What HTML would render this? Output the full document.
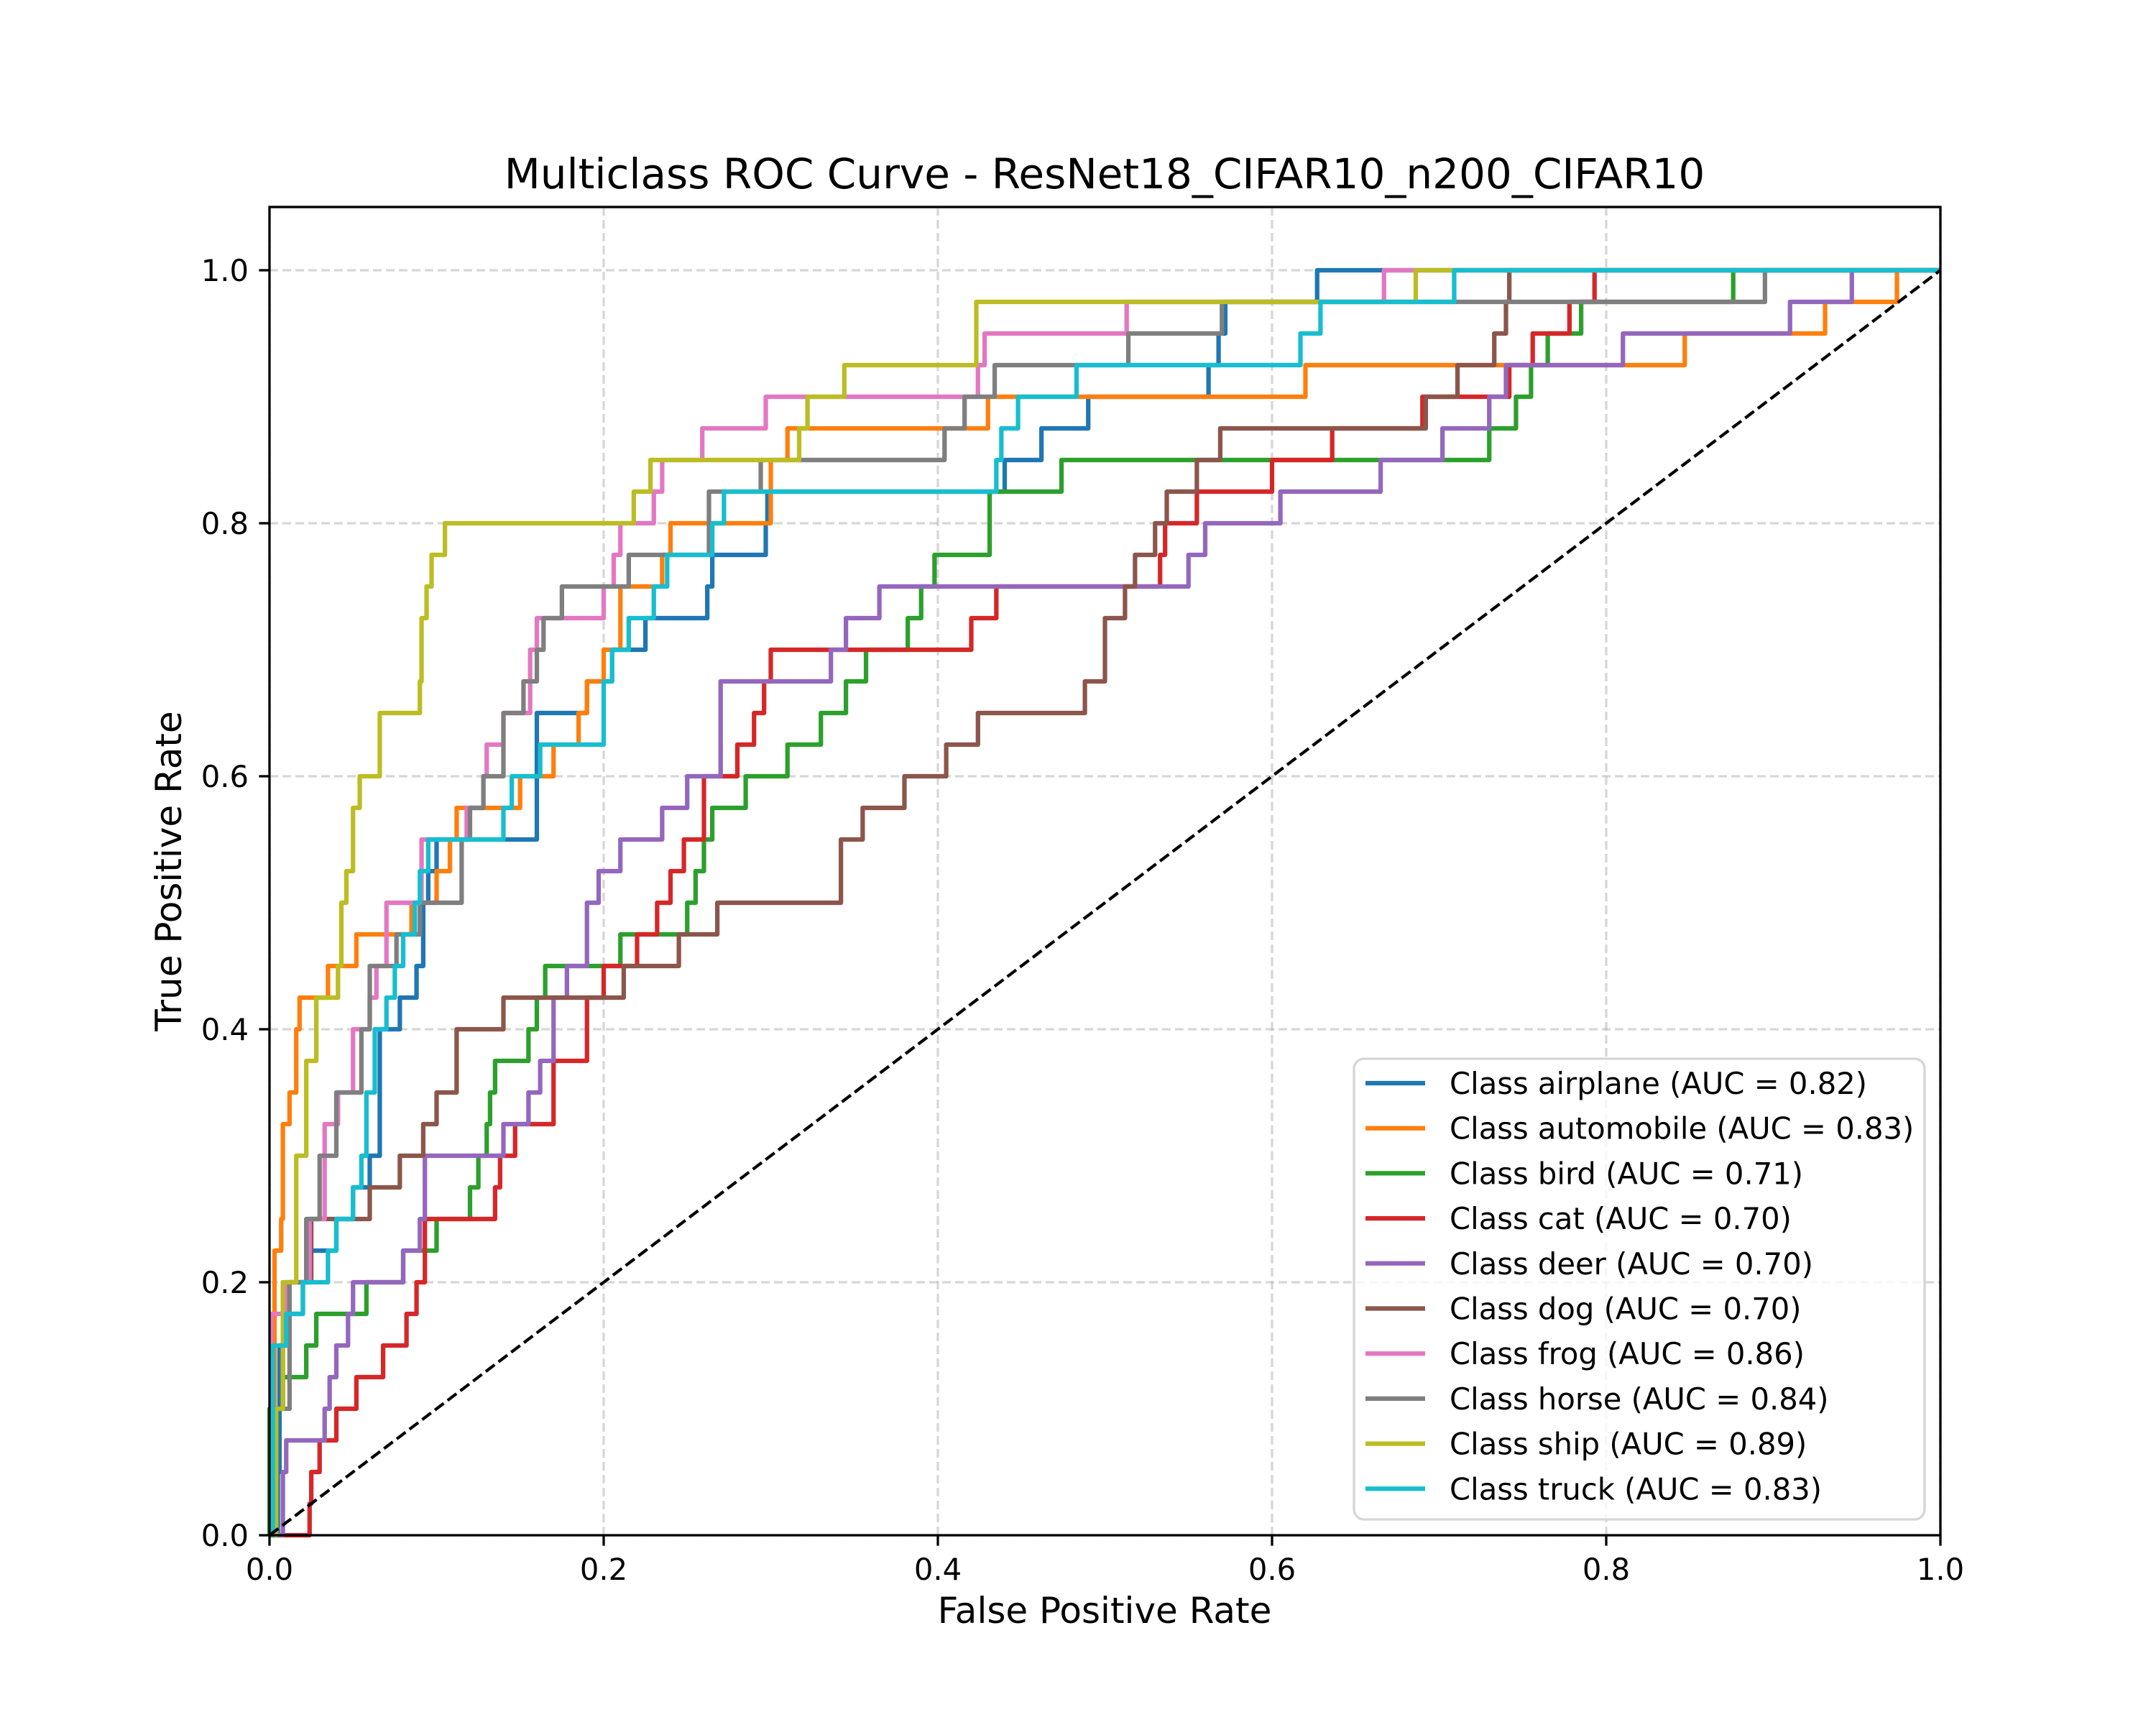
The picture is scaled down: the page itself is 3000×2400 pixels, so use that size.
<!DOCTYPE html>
<html><head><meta charset="utf-8"><style>
html,body{margin:0;padding:0;background:#fff}
svg{display:block;font-family:"DejaVu Sans","Liberation Sans",sans-serif}
</style></head><body>
<svg id="chart" width="3000" height="2400" viewBox="0 0 3000 2400" xmlns="http://www.w3.org/2000/svg">
<rect width="3000" height="2400" fill="#fff"/>
<g id="grid"></g>
<g id="series"></g>
<rect x="375" y="288" width="2325" height="1848" fill="none" stroke="#000" stroke-width="3.3"/>
<g id="ticks"></g>
<text x="1537" y="262" font-size="58" text-anchor="middle">Multiclass ROC Curve - ResNet18_CIFAR10_n200_CIFAR10</text>
<text x="1537" y="2258" font-size="50" text-anchor="middle">False Positive Rate</text>
<text x="0" y="0" font-size="50" text-anchor="middle" transform="translate(252,1212) rotate(-90)">True Positive Rate</text>
<g id="legend"></g>
</svg>
<script>
const NS='http://www.w3.org/2000/svg';
const xTicks=[0,0.2,0.4,0.6,0.8,1.0];
const yTicks=[0,0.2,0.4,0.6,0.8,1.0];
const xTickLabels=['0.0','0.2','0.4','0.6','0.8','1.0'];
const yTickLabels=['0.0','0.2','0.4','0.6','0.8','1.0'];
const classNames=['airplane','automobile','bird','cat','deer','dog','frog','horse','ship','truck'];
const aucValues=['0.82','0.83','0.71','0.70','0.70','0.70','0.86','0.84','0.89','0.83'];
const colors=['#1f77b4','#ff7f0e','#2ca02c','#d62728','#9467bd','#8c564b','#e377c2','#7f7f7f','#bcbd22','#17becf'];
// each pair: [fpr at which tpr steps up, new tpr]
const airplane=[[.005,.05],[.006,.15],[.01,.175],[.02,.2],[.023,.225],[.04,.25],[.05,.275],[.06,.3],[.066,.4],[.078,.425],[.088,.45],[.092,.5],[.095,.525],[.1,.55],[.13,.55],[.16,.575],[.16,.65],[.19,.675],[.205,.7],[.225,.725],[.262,.75],[.265,.775],[.297,.8],[.298,.825],[.44,.85],[.462,.875],[.49,.9],[.562,.925],[.568,.95],[.572,.975],[.627,1]];
const automobile=[[.003,.225],[.007,.25],[.008,.325],[.012,.35],[.016,.4],[.018,.425],[.035,.45],[.052,.475],[.085,.5],[.1,.525],[.108,.55],[.112,.575],[.15,.6],[.17,.625],[.185,.65],[.19,.675],[.2,.7],[.21,.75],[.235,.775],[.24,.8],[.3,.825],[.3,.85],[.31,.875],[.43,.9],[.62,.925],[.847,.95],[.931,.975],[.974,1]];
const bird=[[0,.1],[.008,.125],[.022,.15],[.028,.175],[.058,.2],[.08,.225],[.1,.25],[.12,.275],[.125,.3],[.13,.325],[.132,.35],[.135,.375],[.155,.4],[.16,.425],[.165,.45],[.21,.475],[.25,.5],[.255,.525],[.26,.55],[.265,.575],[.285,.6],[.31,.625],[.33,.65],[.345,.675],[.357,.7],[.382,.725],[.39,.75],[.398,.775],[.431,.825],[.474,.85],[.73,.875],[.746,.9],[.755,.925],[.765,.95],[.785,.975],[.876,1]];
const cat=[[.024,.025],[.025,.05],[.03,.075],[.04,.1],[.052,.125],[.068,.15],[.082,.175],[.088,.2],[.093,.25],[.135,.275],[.138,.3],[.147,.325],[.17,.375],[.19,.425],[.2,.45],[.22,.475],[.232,.5],[.24,.525],[.248,.55],[.26,.6],[.28,.625],[.29,.65],[.296,.675],[.3,.7],[.42,.725],[.435,.75],[.533,.775],[.536,.8],[.555,.825],[.6,.85],[.636,.875],[.69,.9],[.742,.925],[.756,.95],[.778,.975],[.793,1]];
const deer=[[.008,.05],[.01,.075],[.033,.1],[.036,.125],[.04,.15],[.047,.175],[.05,.2],[.08,.225],[.09,.25],[.093,.3],[.14,.325],[.155,.35],[.162,.375],[.17,.425],[.178,.45],[.19,.5],[.197,.525],[.21,.55],[.235,.575],[.25,.6],[.27,.675],[.336,.7],[.345,.725],[.365,.75],[.55,.775],[.56,.8],[.605,.825],[.665,.85],[.702,.875],[.73,.9],[.74,.925],[.81,.95],[.91,.975],[.947,1]];
const dog=[[.004,.1],[.008,.15],[.012,.2],[.025,.25],[.06,.275],[.078,.3],[.092,.325],[.1,.35],[.112,.4],[.14,.425],[.212,.45],[.245,.475],[.268,.5],[.342,.55],[.355,.575],[.38,.6],[.405,.625],[.424,.65],[.488,.675],[.5,.7],[.5,.725],[.512,.75],[.518,.775],[.53,.8],[.537,.825],[.555,.85],[.569,.875],[.692,.9],[.711,.925],[.733,.95],[.74,.975],[.742,1]];
const frog=[[.001,.175],[.01,.2],[.024,.25],[.033,.325],[.041,.35],[.05,.4],[.06,.425],[.064,.45],[.07,.5],[.091,.55],[.118,.575],[.128,.6],[.13,.625],[.14,.65],[.156,.7],[.16,.725],[.2,.75],[.206,.775],[.21,.8],[.23,.825],[.235,.85],[.259,.875],[.297,.9],[.424,.925],[.428,.95],[.513,.975],[.667,1]];
const horse=[[.004,.1],[.012,.2],[.022,.25],[.03,.3],[.04,.35],[.055,.4],[.06,.45],[.076,.475],[.09,.5],[.115,.55],[.12,.575],[.128,.6],[.14,.65],[.152,.675],[.16,.7],[.164,.725],[.175,.75],[.215,.775],[.263,.825],[.294,.85],[.404,.875],[.416,.9],[.434,.925],[.514,.95],[.57,.975],[.895,1]];
const ship=[[.004,.1],[.008,.2],[.016,.3],[.022,.375],[.028,.425],[.041,.45],[.043,.5],[.046,.525],[.05,.575],[.054,.6],[.066,.65],[.09,.675],[.091,.725],[.094,.75],[.097,.775],[.105,.8],[.218,.825],[.228,.85],[.317,.875],[.322,.9],[.344,.925],[.423,.975],[.686,1]];
const truck=[[.002,.15],[.01,.175],[.02,.2],[.035,.225],[.04,.25],[.05,.275],[.055,.3],[.058,.35],[.063,.4],[.07,.425],[.075,.45],[.08,.475],[.087,.5],[.09,.525],[.095,.55],[.14,.575],[.145,.6],[.162,.625],[.2,.675],[.205,.7],[.215,.725],[.23,.75],[.238,.775],[.265,.8],[.272,.825],[.435,.85],[.438,.875],[.448,.9],[.483,.925],[.617,.95],[.629,.975],[.709,1]];
const seriesData=[airplane,automobile,bird,cat,deer,dog,frog,horse,ship,truck];

const X0=375,X1=2700,Y0=2136,YT=288,YMAX=1.05;
const xs=v=>X0+v*(X1-X0);
const ys=v=>Y0-v/YMAX*(Y0-YT);
function mk(tag,attrs,parent){const e=document.createElementNS(NS,tag);for(const k in attrs)e.setAttribute(k,attrs[k]);parent.appendChild(e);return e;}
const grid=document.getElementById('grid'),ticks=document.getElementById('ticks'),ser=document.getElementById('series'),leg=document.getElementById('legend');
xTicks.forEach((t,i)=>{
  const g=mk('line',{x1:xs(t),x2:xs(t),y1:YT,y2:Y0,stroke:'#b0b0b0','stroke-opacity':0.5,'stroke-width':3.3,'stroke-dasharray':'12 6'},grid);
  
  
  const tk=mk('line',{x1:xs(t),x2:xs(t),y1:Y0,y2:Y0+14.6,stroke:'#000','stroke-width':3.3},ticks);
  
  
  const tl=mk('text',{x:xs(t),y:Y0+62,'font-size':41.7,'text-anchor':'middle'},ticks);
  tl.textContent=xTickLabels[i];
  
  
});
yTicks.forEach((t,i)=>{
  const g=mk('line',{x1:X0,x2:X1,y1:ys(t),y2:ys(t),stroke:'#b0b0b0','stroke-opacity':0.5,'stroke-width':3.3,'stroke-dasharray':'12 6'},grid);
  
  
  const tk=mk('line',{x1:X0-14.6,x2:X0,y1:ys(t),y2:ys(t),stroke:'#000','stroke-width':3.3},ticks);
  
  
  const tl=mk('text',{x:X0-29,y:ys(t)+15,'font-size':41.7,'text-anchor':'end'},ticks);
  tl.textContent=yTickLabels[i];
  
  
});
seriesData.forEach((pts,i)=>{
  let d='M'+xs(0)+','+ys(0);let cy=0;
  pts.forEach(p=>{d+=' L'+xs(p[0])+','+ys(cy)+' L'+xs(p[0])+','+ys(p[1]);cy=p[1];});
  d+=' L'+xs(1)+','+ys(cy);
  const pa=mk('path',{d:d,fill:'none',stroke:colors[i],'stroke-width':6.25,'stroke-linejoin':'round'},ser);
  
  
});
const diag=mk('line',{x1:xs(0),y1:ys(0),x2:xs(1),y2:ys(1),stroke:'#000','stroke-width':4.2,'stroke-dasharray':'15.5 6.7'},ser);


const box=mk('rect',{x:1884,y:1473,width:794,height:641,rx:14,fill:'#fff','fill-opacity':0.8,stroke:'#d6d6d6','stroke-width':3.3},leg);


classNames.forEach((c,i)=>{
  const y=1507+i*62.7;
  const ln=mk('line',{x1:1900,x2:1983,y1:y,y2:y,stroke:colors[i],'stroke-width':6.25},leg);
  
  
  const tx=mk('text',{x:2017,y:y+15,'font-size':41.7},leg);
  tx.textContent='Class '+c+' (AUC = '+aucValues[i]+')';
  
  
});
</script>
</body></html>
